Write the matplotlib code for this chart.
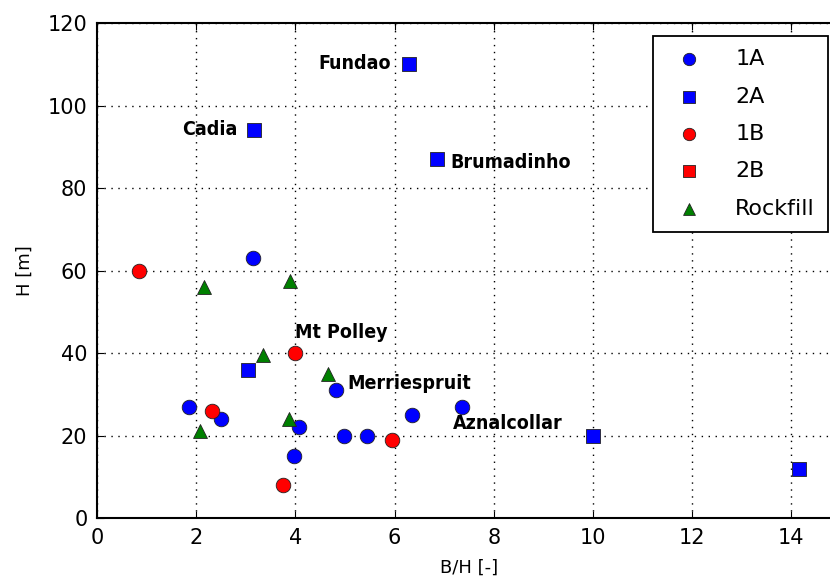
import numpy as np
import matplotlib
matplotlib.use('Agg')
from matplotlib import pyplot as plt

# series values
x_1a = [3.15, 1.85, 2.5, 4.08, 3.98, 4.82, 4.98, 5.45, 6.35, 7.35]
y_1a = [63, 27, 24, 22, 15, 31, 20, 20, 25, 27]
x_2a = [6.3, 3.17, 6.85, 3.05, 10.0, 14.15]
y_2a = [110, 94, 87, 36, 20, 12]
x_1b = [0.85, 2.32, 4.0, 3.75, 5.95]
y_1b = [60, 26, 40, 8, 19]
x_2b = []
y_2b = []
x_rock = [2.15, 3.9, 3.35, 4.65, 3.88, 2.07]
y_rock = [56, 57.5, 39.5, 35, 24, 21]

# dam names, anchored at their points
names = ['Fundao', 'Cadia', 'Brumadinho', 'Mt Polley', 'Merriespruit', 'Aznalcollar']
name_x = [6.3, 3.17, 6.85, 4.0, 4.82, 7.35]
name_y = [110, 94, 87, 40, 31, 27]

plt.rcParams['font.family'] = ['DejaVu Sans']

fig = plt.figure(figsize=(8.3, 5.78), dpi=100)
ax = fig.add_axes([0.117, 0.1038, 0.896, 0.856])

ax.scatter(x_1a, y_1a, s=110, marker='o', c='blue', edgecolors='#222222', linewidths=0.6, label='1A', zorder=3)
ax.scatter(x_2a, y_2a, s=100, marker='s', c='blue', edgecolors='#222222', linewidths=0.6, label='2A', zorder=3)
ax.scatter(x_1b, y_1b, s=110, marker='o', c='red', edgecolors='#222222', linewidths=0.6, label='1B', zorder=3)
ax.scatter(x_2b, y_2b, s=100, marker='s', c='red', edgecolors='#222222', linewidths=0.6, label='2B', zorder=3)
ax.scatter(x_rock, y_rock, s=100, marker='^', c='green', edgecolors='#222222', linewidths=0.6, label='Rockfill', zorder=3)

# label placements: (dx, dy in points, ha)
offs = [(-13, 1, 'right'), (-12, 1, 'right'), (10, -2, 'left'),
        (0, 15, 'left'), (8, 5, 'left'), (-6.5, -12, 'left')]
for n, xx, yy, (dx, dy, ha) in zip(names, name_x, name_y, offs):
    ax.annotate(n, (xx, yy), xytext=(dx, dy), textcoords='offset points',
                ha=ha, va='center', fontsize=14, fontweight='bold', fontstretch='condensed')

ax.set_xlim(0, 15)
ax.set_ylim(0, 120)
ax.set_xticks(np.arange(0, 15, 2))
ax.set_yticks(np.arange(0, 121, 20))
ax.grid(True, color='black', linestyle=(0, (1, 4)), linewidth=1.0)
ax.tick_params(direction='in', top=True, right=True, labelsize=15, length=5, pad=7)
for sp in ax.spines.values():
    sp.set_linewidth(1.5)

ax.set_xlabel('B/H [-]', fontsize=13, labelpad=8)
ax.set_ylabel('H [m]', fontsize=13, labelpad=10)

leg = ax.legend(loc='upper right', bbox_to_anchor=(0.998, 0.938), bbox_transform=fig.transFigure,
                borderaxespad=0, fontsize=16, scatterpoints=1, markerscale=0.85, fancybox=False,
                framealpha=1, edgecolor='black', borderpad=0.6, labelspacing=0.78, handletextpad=1.1)
leg.get_frame().set_linewidth(1.3)

plt.savefig('out.png', dpi=100)
